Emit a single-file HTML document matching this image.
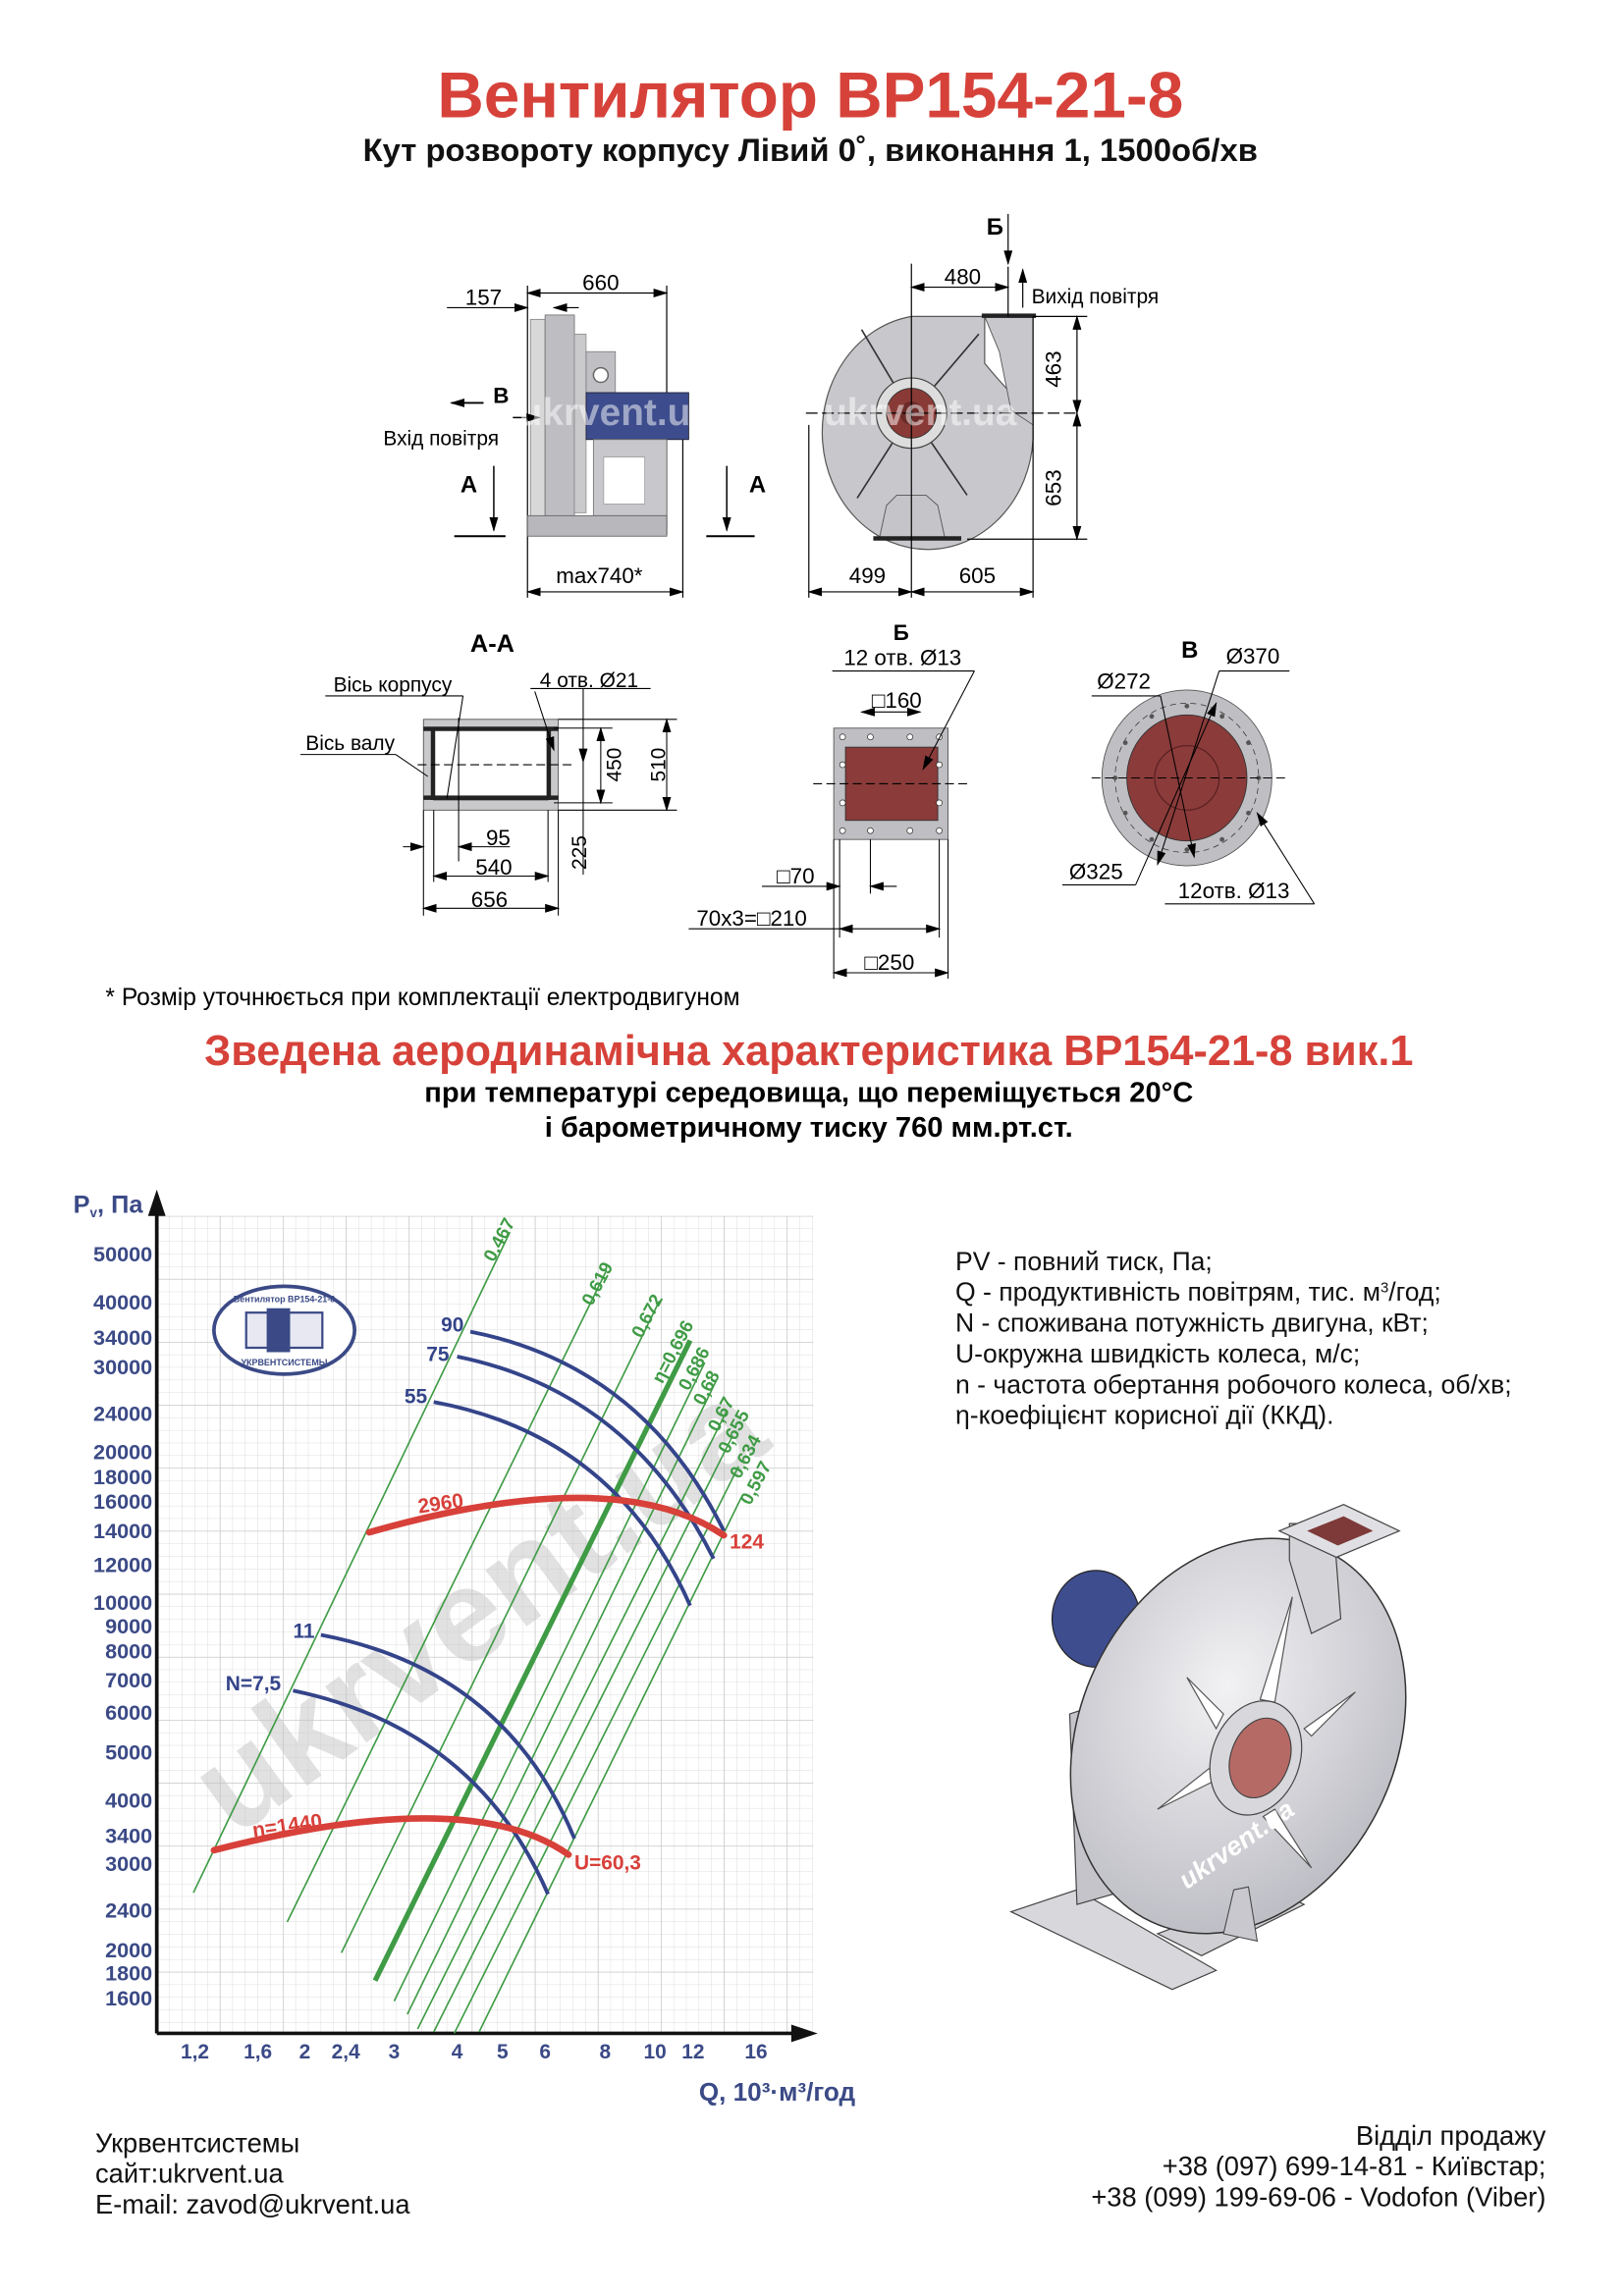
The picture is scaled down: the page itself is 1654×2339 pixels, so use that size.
<!DOCTYPE html>
<html><head><meta charset="utf-8">
<style>
html,body{margin:0;padding:0;background:#fff;}
svg{display:block;}
text{font-family:"Liberation Sans",sans-serif;}
</style></head>
<body>
<svg width="1654" height="2339" viewBox="0 0 1100 1555.5" xmlns="http://www.w3.org/2000/svg">
<defs>
<pattern id="gmin" width="8.6" height="8.6" patternUnits="userSpaceOnUse" x="107" y="830">
<path d="M0 0H8.6M0 0V8.6" stroke="#dedede" stroke-width="0.7" fill="none"/>
</pattern>
<pattern id="gmaj" width="43" height="43" patternUnits="userSpaceOnUse" x="107" y="830">
<path d="M0 0H43M0 0V43" stroke="#c4c4c4" stroke-width="0.9" fill="none"/>
</pattern>
<marker id="ar" markerWidth="10" markerHeight="6" refX="9" refY="3" orient="auto" markerUnits="userSpaceOnUse"><path d="M0 0L10 3L0 6z" fill="#000"/></marker>
<marker id="al" markerWidth="10" markerHeight="6" refX="1" refY="3" orient="auto" markerUnits="userSpaceOnUse"><path d="M10 0L0 3L10 6z" fill="#000"/></marker>
<radialGradient id="disc" cx="0.4" cy="0.4" r="0.7"><stop offset="0" stop-color="#f2f2f4"/><stop offset="1" stop-color="#b8b8c0"/></radialGradient>
</defs>
<g transform="scale(0.9925)">
<!-- Titles -->
<text x="553" y="80" font-size="44" font-weight="bold" fill="#d6423a" text-anchor="middle">Вентилятор ВР154-21-8</text>
<text x="553" y="110" font-size="22" font-weight="bold" fill="#111" text-anchor="middle">Кут розвороту корпусу Лівий 0˚, виконання 1, 1500об/хв</text>

<!-- Side view -->
<g stroke="#000" stroke-width="0.8" fill="none">
<line x1="360" y1="195" x2="360" y2="408"/><line x1="455" y1="195" x2="455" y2="365"/><line x1="466" y1="300" x2="466" y2="408"/>
<line x1="360" y1="200" x2="455" y2="200" marker-start="url(#al)" marker-end="url(#ar)"/>
<line x1="305" y1="210" x2="360" y2="210" marker-end="url(#ar)"/><line x1="378" y1="210" x2="395" y2="210" marker-start="url(#al)"/>
<line x1="360" y1="404" x2="466" y2="404" marker-start="url(#al)" marker-end="url(#ar)"/>
</g>
<text x="330" y="208" font-size="15" text-anchor="middle">157</text>
<text x="410" y="198" font-size="15" text-anchor="middle">660</text>
<text x="409" y="398" font-size="15" text-anchor="middle">max740*</text>
<rect x="362" y="218" width="10" height="135" fill="#d8d8d8" stroke="#888" stroke-width="0.6"/>
<rect x="372" y="215" width="20" height="140" fill="#bdbdc2" stroke="#777" stroke-width="0.6"/>
<rect x="392" y="228" width="8" height="122" fill="#c9c9cc" stroke="#888" stroke-width="0.5"/>
<rect x="400" y="240" width="20" height="32" fill="#c0c0c4" stroke="#777" stroke-width="0.5"/>
<circle cx="410" cy="256" r="5" fill="#fff" stroke="#666"/>
<rect x="400" y="268" width="70" height="32" fill="#3d4c8c" stroke="#223" stroke-width="0.6"/>
<rect x="405" y="300" width="50" height="52" fill="#c8c8cc" stroke="#777" stroke-width="0.6"/>
<rect x="412" y="312" width="28" height="32" fill="#fff" stroke="#999" stroke-width="0.5"/>
<rect x="360" y="352" width="95" height="14" fill="#b8b8bc" stroke="#666" stroke-width="0.6"/>
<text x="342" y="275" font-size="15" font-weight="bold" text-anchor="middle">В</text>
<line x1="330" y1="275" x2="308" y2="275" stroke="#000" stroke-width="1.2" marker-end="url(#ar)"/>
<line x1="350" y1="285" x2="368" y2="285" stroke="#000" stroke-width="1" marker-end="url(#ar)"/>
<text x="301" y="304" font-size="14" text-anchor="middle">Вхід повітря</text>
<text x="320" y="336" font-size="16" font-weight="bold" text-anchor="middle">А</text>
<line x1="337" y1="318" x2="337" y2="362" stroke="#000" stroke-width="1" marker-end="url(#ar)"/>
<line x1="310" y1="366" x2="345" y2="366" stroke="#000" stroke-width="1.3"/>
<text x="517" y="336" font-size="16" font-weight="bold" text-anchor="middle">А</text>
<line x1="496" y1="318" x2="496" y2="362" stroke="#000" stroke-width="1" marker-end="url(#ar)"/>
<line x1="482" y1="366" x2="515" y2="366" stroke="#000" stroke-width="1.3"/>
<text x="420" y="290" font-size="26" font-weight="bold" fill="#fff" fill-opacity="0.5" text-anchor="middle">ukrvent.ua</text>

<!-- Front view -->
<path d="M622 216 L672 216 L672 248 Q690 270 705 282 L705 300 A72 80 0 1 1 622 216 Z" fill="#c8c8cc" stroke="#555" stroke-width="0.8"/>
<path d="M672 216 L705 216 L705 290 L690 280 L682 240 Z" fill="#c8c8cc" stroke="#555" stroke-width="0.6"/>
<rect x="670" y="214" width="37" height="3" fill="#222"/>
<g stroke="#333" stroke-width="1.1">
<line x1="622" y1="282" x2="588" y2="225"/><line x1="622" y1="282" x2="668" y2="228"/>
<line x1="622" y1="282" x2="585" y2="340"/><line x1="622" y1="282" x2="660" y2="338"/>
</g>
<circle cx="622" cy="282" r="24" fill="#ddd" stroke="#444" stroke-width="0.8"/>
<circle cx="622" cy="282" r="17" fill="#8a3a36" stroke="#333" stroke-width="0.6"/>
<circle cx="622" cy="282" r="8" fill="#6b2a28"/>
<path d="M600 368 L605 345 L612 338 L632 338 L640 345 L645 368 Z" fill="#c5c5c9" stroke="#555" stroke-width="0.6"/>
<rect x="596" y="366" width="60" height="3" fill="#222"/>
<g stroke="#000" stroke-width="0.8" fill="none">
<line x1="550" y1="282" x2="735" y2="282" stroke-dasharray="8 3"/>
<line x1="622" y1="180" x2="622" y2="408"/>
<line x1="552" y1="290" x2="552" y2="408"/><line x1="705" y1="216" x2="705" y2="408"/>
<line x1="688" y1="182" x2="688" y2="216"/>
<line x1="622" y1="196" x2="688" y2="196" marker-start="url(#al)" marker-end="url(#ar)"/>
<line x1="705" y1="216" x2="742" y2="216"/><line x1="660" y1="368" x2="742" y2="368"/>
<line x1="735" y1="216" x2="735" y2="282" marker-start="url(#al)" marker-end="url(#ar)"/>
<line x1="735" y1="282" x2="735" y2="368" marker-start="url(#al)" marker-end="url(#ar)"/>
<line x1="552" y1="404" x2="622" y2="404" marker-start="url(#al)" marker-end="url(#ar)"/>
<line x1="622" y1="404" x2="705" y2="404" marker-start="url(#al)" marker-end="url(#ar)"/>
<line x1="688" y1="146" x2="688" y2="180" marker-end="url(#ar)"/>
<line x1="698" y1="210" x2="698" y2="184" marker-end="url(#ar)"/>
</g>
<text x="679" y="160" font-size="16" font-weight="bold" text-anchor="middle">Б</text>
<text x="657" y="194" font-size="15" text-anchor="middle">480</text>
<text x="704" y="207" font-size="14">Вихід повітря</text>
<text x="724" y="252" font-size="15" text-anchor="middle" transform="rotate(-90 724 252)">463</text>
<text x="724" y="333" font-size="15" text-anchor="middle" transform="rotate(-90 724 333)">653</text>
<text x="592" y="398" font-size="15" text-anchor="middle">499</text>
<text x="667" y="398" font-size="15" text-anchor="middle">605</text>
<text x="628" y="290" font-size="26" font-weight="bold" fill="#fff" fill-opacity="0.5" text-anchor="middle">ukrvent.ua</text>

<!-- Section A-A -->
<text x="336" y="445" font-size="17" font-weight="bold" text-anchor="middle">А-А</text>
<rect x="289" y="491" width="92" height="62" fill="#c9c9cc" stroke="#555" stroke-width="0.6"/>
<rect x="296" y="498" width="78" height="48" fill="#fff" stroke="#222" stroke-width="0.6"/>
<rect x="289" y="496" width="92" height="3" fill="#222"/><rect x="289" y="543" width="92" height="3" fill="#222"/>
<rect x="294" y="498" width="3" height="48" fill="#222"/><rect x="373" y="498" width="3" height="48" fill="#222"/>
<g stroke="#000" stroke-width="0.7" fill="none">
<line x1="289" y1="553" x2="289" y2="625"/><line x1="381" y1="553" x2="381" y2="625"/>
<line x1="296" y1="553" x2="296" y2="602"/><line x1="374" y1="553" x2="374" y2="602"/>
<line x1="313" y1="490" x2="313" y2="588"/>
<line x1="289" y1="620" x2="381" y2="620" marker-start="url(#al)" marker-end="url(#ar)"/>
<line x1="296" y1="598" x2="374" y2="598" marker-start="url(#al)" marker-end="url(#ar)"/>
<line x1="275" y1="578" x2="289" y2="578" marker-end="url(#ar)"/><line x1="313" y1="578" x2="348" y2="578" marker-start="url(#al)"/>
<line x1="381" y1="491" x2="462" y2="491"/><line x1="381" y1="553" x2="462" y2="553"/>
<line x1="378" y1="497" x2="418" y2="497"/><line x1="378" y1="548" x2="418" y2="548"/>
<line x1="455" y1="491" x2="455" y2="553" marker-start="url(#al)" marker-end="url(#ar)"/>
<line x1="410" y1="497" x2="410" y2="548" marker-start="url(#al)" marker-end="url(#ar)"/>
<line x1="398" y1="470" x2="398" y2="520" marker-end="url(#ar)"/><line x1="398" y1="520" x2="398" y2="597"/>
<line x1="222" y1="475" x2="316" y2="475"/><line x1="316" y1="475" x2="305" y2="545"/>
<line x1="205" y1="515" x2="270" y2="515"/><line x1="270" y1="515" x2="292" y2="530"/>
<line x1="362" y1="470" x2="444" y2="470"/><line x1="365" y1="472" x2="378" y2="512" marker-end="url(#ar)"/>
<line x1="285" y1="522" x2="392" y2="522" stroke-dasharray="6 3"/>
</g>
<text x="268" y="472" font-size="14" text-anchor="middle">Вісь корпусу</text>
<text x="239" y="512" font-size="14" text-anchor="middle">Вісь валу</text>
<text x="402" y="469" font-size="14" text-anchor="middle">4 отв. Ø21</text>
<text x="424" y="522" font-size="14" text-anchor="middle" transform="rotate(-90 424 522)">450</text>
<text x="454" y="522" font-size="14" text-anchor="middle" transform="rotate(-90 454 522)">510</text>
<text x="400" y="582" font-size="14" text-anchor="middle" transform="rotate(-90 400 582)">225</text>
<text x="340" y="577" font-size="15" text-anchor="middle">95</text>
<text x="337" y="597" font-size="15" text-anchor="middle">540</text>
<text x="334" y="619" font-size="15" text-anchor="middle">656</text>

<!-- Flange Б -->
<text x="615" y="437" font-size="15" font-weight="bold" text-anchor="middle">Б</text>
<text x="616" y="454" font-size="15" text-anchor="middle">12 отв. Ø13</text>
<rect x="569" y="497" width="78" height="76" fill="#bfbfc3" stroke="#555" stroke-width="0.6"/>
<rect x="577" y="510" width="63" height="50" fill="#8a3b3a" stroke="#333" stroke-width="0.6"/>
<g fill="#fff" stroke="#333" stroke-width="0.5">
<circle cx="575" cy="503" r="2"/><circle cx="594" cy="503" r="2"/><circle cx="621" cy="503" r="2"/><circle cx="641" cy="503" r="2"/>
<circle cx="575" cy="567" r="2"/><circle cx="594" cy="567" r="2"/><circle cx="621" cy="567" r="2"/><circle cx="641" cy="567" r="2"/>
<circle cx="575" cy="522" r="2"/><circle cx="575" cy="548" r="2"/><circle cx="641" cy="522" r="2"/><circle cx="641" cy="548" r="2"/>
</g>
<g stroke="#000" stroke-width="0.7" fill="none">
<line x1="568" y1="458" x2="665" y2="458"/><line x1="665" y1="458" x2="630" y2="525" marker-end="url(#ar)"/>
<line x1="588" y1="486" x2="628" y2="486" marker-start="url(#al)" marker-end="url(#ar)"/>
<line x1="569" y1="573" x2="569" y2="668"/><line x1="647" y1="573" x2="647" y2="668"/>
<line x1="573" y1="573" x2="573" y2="640"/><line x1="594" y1="573" x2="594" y2="610"/><line x1="641" y1="573" x2="641" y2="640"/>
<line x1="520" y1="605" x2="573" y2="605" marker-end="url(#ar)"/><line x1="594" y1="605" x2="612" y2="605" marker-start="url(#al)"/>
<line x1="470" y1="634" x2="573" y2="634"/><line x1="573" y1="634" x2="641" y2="634" marker-start="url(#al)" marker-end="url(#ar)"/>
<line x1="569" y1="664" x2="647" y2="664" marker-start="url(#al)" marker-end="url(#ar)"/>
<line x1="555" y1="535" x2="660" y2="535" stroke-dasharray="6 3"/>
</g>
<text x="612" y="483" font-size="15" text-anchor="middle">□160</text>
<text x="543" y="603" font-size="15" text-anchor="middle">□70</text>
<text x="513" y="632" font-size="15" text-anchor="middle">70x3=□210</text>
<text x="607" y="662" font-size="15" text-anchor="middle">□250</text>

<!-- Flange В -->
<text x="812" y="449" font-size="16" font-weight="bold" text-anchor="middle">В</text>
<text x="855" y="453" font-size="15" text-anchor="middle">Ø370</text>
<text x="767" y="470" font-size="15" text-anchor="middle">Ø272</text>
<ellipse cx="810" cy="531" rx="58" ry="60" fill="#bfbfc3" stroke="#555" stroke-width="0.6"/>
<ellipse cx="810" cy="531" rx="49" ry="51" fill="none" stroke="#333" stroke-width="0.5" stroke-dasharray="4 3"/>
<ellipse cx="810" cy="531" rx="41" ry="43" fill="#8a3b3a" stroke="#333" stroke-width="0.6"/>
<circle cx="810" cy="531" r="22" fill="none" stroke="#5a2020" stroke-width="0.8"/>
<g fill="#555"><circle cx="810" cy="482" r="1.6"/><circle cx="834" cy="489" r="1.6"/><circle cx="852" cy="507" r="1.6"/><circle cx="859" cy="531" r="1.6"/><circle cx="852" cy="555" r="1.6"/><circle cx="834" cy="573" r="1.6"/><circle cx="810" cy="580" r="1.6"/><circle cx="786" cy="573" r="1.6"/><circle cx="768" cy="555" r="1.6"/><circle cx="761" cy="531" r="1.6"/><circle cx="768" cy="507" r="1.6"/><circle cx="786" cy="489" r="1.6"/></g>
<g stroke="#000" stroke-width="0.7" fill="none">
<line x1="745" y1="531" x2="880" y2="531" stroke-dasharray="6 3"/>
<line x1="832" y1="458" x2="880" y2="458"/><line x1="832" y1="458" x2="790" y2="590" marker-end="url(#ar)"/>
<line x1="745" y1="475" x2="792" y2="475"/><line x1="792" y1="475" x2="815" y2="585" marker-end="url(#ar)"/>
<line x1="725" y1="604" x2="775" y2="604"/><line x1="775" y1="604" x2="830" y2="480" marker-end="url(#ar)"/>
<line x1="795" y1="617" x2="897" y2="617"/><line x1="897" y1="617" x2="858" y2="555" marker-end="url(#ar)"/>
</g>
<text x="748" y="600" font-size="15" text-anchor="middle">Ø325</text>
<text x="842" y="613" font-size="15" text-anchor="middle">12отв.  Ø13</text>

<text x="72" y="686" font-size="16.5">* Розмір уточнюється при комплектації електродвигуном</text>
<text x="552" y="727" font-size="29" font-weight="bold" fill="#d6423a" text-anchor="middle">Зведена аеродинамічна характеристика ВР154-21-8 вик.1</text>
<text x="552" y="752" font-size="19.5" font-weight="bold" text-anchor="middle">при температурі середовища, що переміщується 20°С</text>
<text x="552" y="776" font-size="19.5" font-weight="bold" text-anchor="middle">і барометричному тиску 760 мм.рт.ст.</text>

<!-- Chart -->
<rect x="107" y="830" width="448" height="558" fill="url(#gmin)"/>
<rect x="107" y="830" width="448" height="558" fill="url(#gmaj)"/>
<line x1="107" y1="1388" x2="107" y2="822" stroke="#111" stroke-width="2.5"/>
<path d="M101 830 L107 812 L113 830 Z" fill="#111"/>
<line x1="107" y1="1388" x2="545" y2="1388" stroke="#111" stroke-width="2.5"/>
<path d="M540 1382 L558 1388 L540 1394 Z" fill="#111"/>
<text x="50" y="828" font-size="17" font-weight="bold" fill="#3b4a86">P<tspan font-size="9" dy="3">v</tspan><tspan dy="-3">, Па</tspan></text>
<g font-size="14.5" font-weight="bold" fill="#3b4a86" text-anchor="end">
<text x="104" y="861">50000</text><text x="104" y="894">40000</text><text x="104" y="918">34000</text><text x="104" y="938">30000</text><text x="104" y="970">24000</text><text x="104" y="996">20000</text><text x="104" y="1013">18000</text><text x="104" y="1030">16000</text><text x="104" y="1050">14000</text><text x="104" y="1073">12000</text><text x="104" y="1099">10000</text><text x="104" y="1115">9000</text><text x="104" y="1132">8000</text><text x="104" y="1152">7000</text><text x="104" y="1174">6000</text><text x="104" y="1201">5000</text><text x="104" y="1234">4000</text><text x="104" y="1258">3400</text><text x="104" y="1277">3000</text><text x="104" y="1309">2400</text><text x="104" y="1336">2000</text><text x="104" y="1352">1800</text><text x="104" y="1369">1600</text>
</g>
<g font-size="14" font-weight="bold" fill="#3b4a86" text-anchor="middle">
<text x="133" y="1405">1,2</text><text x="176" y="1405">1,6</text><text x="208" y="1405">2</text><text x="236" y="1405">2,4</text><text x="269" y="1405">3</text><text x="312" y="1405">4</text><text x="343" y="1405">5</text><text x="372" y="1405">6</text><text x="413" y="1405">8</text><text x="447" y="1405">10</text><text x="473" y="1405">12</text><text x="516" y="1405">16</text>
</g>
<text x="477" y="1434" font-size="17.5" font-weight="bold" fill="#3b4a86">Q, 10³·м³/год</text>

<!-- watermark -->
<text x="160" y="1255" font-size="90" font-weight="bold" fill="#c4c4c4" fill-opacity="0.5" transform="rotate(-36 160 1255)">ukrvent.ua</text>

<!-- logo -->
<ellipse cx="194" cy="908" rx="48" ry="30" fill="#fff" stroke="#3b4a86" stroke-width="2.5"/>
<rect x="168" y="896" width="52" height="24" fill="#e8e8f2" stroke="#3b4a86" stroke-width="1.5"/>
<rect x="182" y="893" width="16" height="30" fill="#3b4a86"/>
<text x="194" y="889" font-size="6" font-weight="bold" fill="#3b4a86" text-anchor="middle">Вентилятор ВР154-21-8</text>
<text x="194" y="932" font-size="6" font-weight="bold" fill="#3b4a86" text-anchor="middle">УКРВЕНТСИСТЕМЫ</text>

<!-- green lines -->
<g stroke="#3f9b45" stroke-width="1.1" fill="none">
<line x1="132" y1="1292" x2="348" y2="841"/>
<line x1="196" y1="1312" x2="414" y2="867"/>
<line x1="233" y1="1333" x2="450" y2="888"/>
<line x1="269" y1="1366" x2="481" y2="930"/>
<line x1="278" y1="1375" x2="489" y2="942"/>
<line x1="285" y1="1385" x2="496" y2="963"/>
<line x1="296" y1="1387" x2="500" y2="980"/>
<line x1="310" y1="1388" x2="504" y2="1001"/>
<line x1="327" y1="1387" x2="506" y2="1022"/>
</g>
<line x1="256" y1="1352" x2="471" y2="915" stroke="#3f9b45" stroke-width="3.5"/>
<g font-size="12.5" font-weight="bold" fill="#3f9b45">
<text x="337" y="862" transform="rotate(-62 337 862)">0.467</text>
<text x="404" y="892" transform="rotate(-62 404 892)">0,619</text>
<text x="438" y="914" transform="rotate(-62 438 914)">0,672</text>
<text x="452" y="945" transform="rotate(-62 452 945)">η=0,696</text>
<text x="470" y="950" transform="rotate(-62 470 950)">0,686</text>
<text x="480" y="960" transform="rotate(-62 480 960)">0,68</text>
<text x="490" y="978" transform="rotate(-62 490 978)">0,67</text>
<text x="497" y="993" transform="rotate(-62 497 993)">0,655</text>
<text x="505" y="1010" transform="rotate(-62 505 1010)">0,634</text>
<text x="512" y="1028" transform="rotate(-62 512 1028)">0,597</text>
</g>

<!-- blue curves -->
<g stroke="#34448a" stroke-width="2.6" fill="none">
<path d="M321 909 Q438 932 494 1045"/>
<path d="M312 926 Q430 950 487 1064"/>
<path d="M296 957 Q420 980 471 1096"/>
<path d="M219 1116 Q345 1140 392 1255"/>
<path d="M200 1154 Q325 1180 374 1293"/>
</g>
<g font-size="14" font-weight="bold" fill="#34448a">
<text x="301" y="909">90</text><text x="291" y="929">75</text><text x="276" y="958">55</text><text x="200" y="1118">11</text><text x="154" y="1154">N=7,5</text>
</g>

<!-- red curves -->
<g stroke="#d8403a" stroke-width="4.5" fill="none" stroke-linecap="round">
<path d="M252 1046 Q420 998 494 1048"/>
<path d="M146 1263 Q320 1218 388 1266"/>
</g>
<g font-size="14" font-weight="bold" fill="#d8403a">
<text x="286" y="1033" transform="rotate(-8 286 1033)">2960</text>
<text x="498" y="1057">124</text>
<text x="173" y="1254" transform="rotate(-8 173 1254)">n=1440</text>
<text x="392" y="1276">U=60,3</text>
</g>

<!-- legend -->
<g font-size="17.8" fill="#111">
<text x="652" y="867">PV - повний тиск, Па;</text>
<text x="652" y="888">Q - продуктивність повітрям, тис. м<tspan font-size="10" dy="-6">3</tspan><tspan dy="6">/год;</tspan></text>
<text x="652" y="909">N - споживана потужність двигуна, кВт;</text>
<text x="652" y="930">U-окружна швидкість колеса, м/с;</text>
<text x="652" y="951">n - частота обертання робочого колеса, об/хв;</text>
<text x="652" y="972">η-коефіцієнт корисної дії (ККД).</text>
</g>

<!-- 3D fan -->
<path d="M690 1305 L735 1290 L830 1345 L800 1358 Z" fill="#d8d8dc" stroke="#444" stroke-width="0.8"/>
<path d="M790 1320 L870 1290 L890 1300 L820 1335 Z" fill="#d0d0d4" stroke="#444" stroke-width="0.8"/>
<path d="M730 1170 L760 1160 L770 1290 L735 1300 Z" fill="#c4c4ca" stroke="#444" stroke-width="0.8"/>
<ellipse cx="748" cy="1105" rx="30" ry="33" fill="#3e4d8e" stroke="#222" stroke-width="0.8"/>
<path d="M745 1150 Q790 1060 900 1070 L880 1290 Q780 1300 745 1230 Z" fill="#c8c8ce" stroke="#444" stroke-width="0.8"/>
<ellipse cx="845" cy="1185" rx="108" ry="140" transform="rotate(25 845 1185)" fill="url(#disc)" stroke="#333" stroke-width="1"/>
<path d="M880 1065 L880 1040 L910 1040 L915 1105 L895 1115 Z" fill="#d4d4d8" stroke="#444" stroke-width="0.8"/>
<path d="M873 1045 L917 1027 L955 1045 L912 1063 Z" fill="#e0e0e4" stroke="#444" stroke-width="0.8"/>
<path d="M892 1045 L917 1035 L937 1045 L913 1055 Z" fill="#7d3a38"/>
<g fill="#fff" stroke="#555" stroke-width="0.8">
<path d="M860 1160 L882 1090 L870 1162 Z"/><path d="M890 1180 L925 1155 L895 1185 Z"/><path d="M870 1235 L895 1275 L862 1240 Z"/><path d="M830 1215 L790 1235 L828 1205 Z"/><path d="M830 1180 L810 1145 L835 1170 Z"/>
</g>
<ellipse cx="857" cy="1200" rx="30" ry="40" transform="rotate(20 857 1200)" fill="#d8d8dc" stroke="#444" stroke-width="0.8"/>
<ellipse cx="860" cy="1200" rx="20" ry="28" transform="rotate(20 860 1200)" fill="#b66a66" stroke="#444" stroke-width="0.8"/>
<path d="M835 1320 L842 1290 L852 1288 L858 1325 Z" fill="#c8c8ce" stroke="#444" stroke-width="0.7"/>
<text x="810" y="1290" font-size="18" font-weight="bold" font-style="italic" fill="#fff" transform="rotate(-35 810 1290)">ukrvent.ua</text>

<!-- footer -->
<g font-size="18.3" fill="#111">
<text x="65" y="1469">Укрвентсистемы</text>
<text x="65" y="1490">сайт:ukrvent.ua</text>
<text x="65" y="1511">E-mail: zavod@ukrvent.ua</text>
<text x="1063" y="1464" text-anchor="end" transform="translate(-8,0)">Відділ продажу</text>
<text x="1055" y="1485" text-anchor="end">+38 (097) 699-14-81 - Київстар;</text>
<text x="1055" y="1506" text-anchor="end">+38 (099) 199-69-06 - Vodofon (Viber)</text>
</g>
</g>
</svg>
</body></html>
